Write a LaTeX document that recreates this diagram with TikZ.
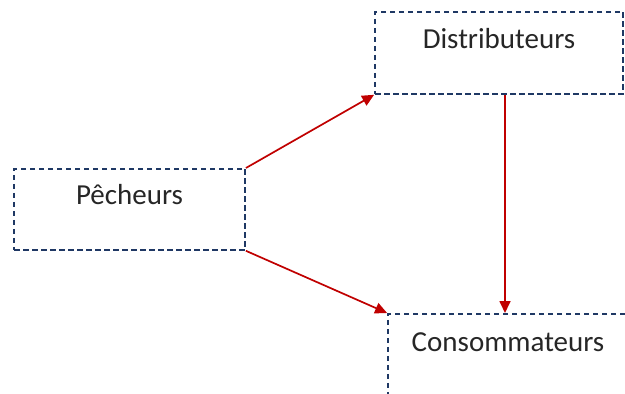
\documentclass[tikz,border=0pt]{standalone}
\usepackage{fontspec}
\setmainfont{Carlito}
\usetikzlibrary{arrows.meta}
\definecolor{boxblue}{HTML}{1F3864}
\definecolor{arrowred}{HTML}{C00000}
\tikzset{
  actor/.style={draw=boxblue, line width=1.8pt, dash pattern=on 5.5pt off 3.5pt,
    rectangle, inner sep=0pt, font=\fontsize{29}{32}\selectfont, text=black!85},
  flow/.style={draw=arrowred, line width=1.7pt, -{Triangle[length=12pt,width=11pt]}}
}
\begin{document}
\begin{tikzpicture}[x=1pt,y=-1pt]
  \useasboundingbox (0,0) rectangle (625,394);
  \clip (0,0) rectangle (625,394);
  \node[actor, minimum width=231pt, text height=36pt, text depth=45pt]
    (pecheurs) at (129.5,168) [anchor=north] {Pêcheurs};
  \node[actor, minimum width=248pt, text height=37pt, text depth=45pt]
    (distrib) at (499,11) [anchor=north] {Distributeurs};
  \node[actor, minimum width=240pt, text height=38pt, text depth=70pt]
    (conso) at (508,313) [anchor=north] {Consommateurs};
  \draw[flow] (pecheurs.north east) -- (distrib.south west);
  \draw[flow] (pecheurs.south east) -- (conso.north west);
  \draw[flow] ([xshift=6pt]distrib.south) -- ([xshift=6pt]distrib.south |- conso.north);
\end{tikzpicture}
\end{document}
